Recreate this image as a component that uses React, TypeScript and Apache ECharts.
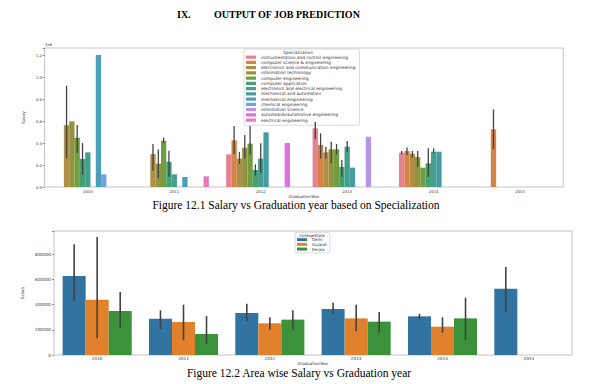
import React, { useEffect, useRef } from 'react';
import * as echarts from 'echarts';

// ---------- data ----------
const years = ['2010', '2011', '2012', '2013', '2014', '2015'];

const specializations = [
  'instrumentation and control engineering',
  'computer science & engineering',
  'electronics and communication engineering',
  'information technology',
  'computer engineering',
  'computer application',
  'electronics and electrical engineering',
  'mechanical and automation',
  'mechanical engineering',
  'chemical engineering',
  'information science',
  'automobile/automotive engineering',
  'electrical engineering',
];

const instrumentationSalary = [null, null, 297000, 533000, 312000, null];
const computerScienceSalary = [null, null, 424000, 382000, 327000, 524000];
const electronicsCommSalary = [561000, 300000, 258000, 315000, 303000, null];
const infoTechSalary = [597000, 212000, 357000, 342000, 273000, null];
const computerEngSalary = [448000, 420000, 394000, 342000, 176000, null];
const computerAppSalary = [255000, 230000, 155000, 182000, 215000, null];
const electronicsElecSalary = [315000, 115000, 258000, 367000, 321000, null];
const mechAutomationSalary = [null, null, 497000, 176000, 321000, null];
const mechEngSalary = [1200000, 91000, null, null, null, null];
const chemicalSalary = [115000, null, null, null, null, null];
const infoScienceSalary = [null, null, null, 457000, null, null];
const automobileSalary = [null, null, 400000, null, null, null];
const electricalSalary = [null, 97000, null, null, null, null];

const specSalaries = [
  instrumentationSalary, computerScienceSalary, electronicsCommSalary, infoTechSalary,
  computerEngSalary, computerAppSalary, electronicsElecSalary, mechAutomationSalary,
  mechEngSalary, chemicalSalary, infoScienceSalary, automobileSalary, electricalSalary,
];

// [yearIndex, specializationIndex, low, high]
const specErrors = [
  [0, 2, 261000, 921000], [0, 4, 312000, 564000], [0, 5, 112000, 400000],
  [1, 2, 148000, 390000], [1, 3, 80000, 340000], [1, 4, 397000, 448000], [1, 5, 94000, 330000],
  [2, 1, 297000, 555000], [2, 2, 210000, 320000], [2, 3, 260000, 473000], [2, 4, 294000, 555000],
  [2, 5, 103000, 206000], [2, 6, 124000, 397000],
  [3, 0, 436000, 594000], [3, 1, 260000, 488000], [3, 2, 260000, 367000], [3, 3, 215000, 412000],
  [3, 4, 297000, 390000], [3, 5, 94000, 245000], [3, 6, 315000, 418000],
  [4, 0, 297000, 327000], [4, 1, 290000, 360000], [4, 2, 267000, 327000], [4, 3, 182000, 327000],
  [4, 5, 94000, 352000], [4, 6, 306000, 352000],
  [5, 1, 343000, 706000],
];

const states = ['Delhi', 'Gujarat', 'Kerala'];
const delhiSalary = [627000, 288000, 334000, 365000, 307000, 527000];
const gujaratSalary = [439000, 262000, 252000, 291000, 225000, null];
const keralaSalary = [350000, 167000, 281000, 265000, 291000, null];
const stateSalaries = [delhiSalary, gujaratSalary, keralaSalary];

// [yearIndex, stateIndex, low, high]
const stateErrors = [
  [0, 0, 431000, 879000], [1, 0, 204000, 355000], [2, 0, 270000, 408000],
  [3, 0, 323000, 415000], [4, 0, 283000, 328000], [5, 0, 344000, 700000],
  [0, 1, 133000, 937000], [1, 1, 117000, 400000], [2, 1, 200000, 300000],
  [3, 1, 188000, 400000], [4, 1, 177000, 300000],
  [0, 2, 217000, 500000], [1, 2, 90000, 310000], [2, 2, 200000, 355000],
  [3, 2, 177000, 342000], [4, 2, 117000, 455000],
];

// ---------- colours (seaborn husl palette, desaturated 0.75) ----------
const HM = [
  [3.2406, -1.5372, -0.4986],
  [-0.9689, 1.8758, 0.0415],
  [0.0557, -0.204, 1.057],
];
const refU = 0.19784, refV = 0.46834, labE = 0.008856, labK = 903.3;

function maxChroma(L: number, H: number) {
  const hrad = (H / 360) * 2 * Math.PI;
  const sinH = Math.sin(hrad), cosH = Math.cos(hrad);
  const sub1 = Math.pow(L + 16, 3) / 1560896;
  const sub2 = sub1 > labE ? sub1 : L / labK;
  let result = Infinity;
  for (const [m1, m2, m3] of HM) {
    const top = (0.99915 * m1 + 1.05122 * m2 + 1.1446 * m3) * sub2;
    const rb = 0.8633 * m3 - 0.17266 * m2;
    const lb = 0.12949 * m3 - 0.38848 * m1;
    const bottom = (rb * sinH + lb * cosH) * sub2;
    for (const t of [0, 1]) {
      const C = (L * (top - 1.05122 * t)) / (bottom + 0.17266 * sinH * t);
      if (C > 0 && C < result) result = C;
    }
  }
  return result;
}

function huslToRgb(h: number, s: number, l: number) {
  const C = (maxChroma(l, h) / 100) * s;
  const hr = (h / 360) * 2 * Math.PI;
  const U = C * Math.cos(hr), V = C * Math.sin(hr);
  const t = (l + 16) / 116;
  const varY = t * t * t > labE ? t * t * t : (116 * t - 16) / labK;
  const varU = U / (13 * l) + refU;
  const varV = V / (13 * l) + refV;
  const Y = varY;
  const X = -(9 * Y * varU) / ((varU - 4) * varV - varU * varV);
  const Z = (9 * Y - 15 * varV * Y - varV * X) / (3 * varV);
  return HM.map(([a, b, c]) => {
    let v = a * X + b * Y + c * Z;
    v = v <= 0.0031308 ? 12.92 * v : 1.055 * Math.pow(v, 1 / 2.4) - 0.055;
    return Math.min(1, Math.max(0, v));
  });
}

function desat(rgb: number[], p: number) {
  const mx = Math.max(...rgb), mn = Math.min(...rgb);
  const l = (mx + mn) / 2;
  return rgb.map((v) => l + (v - l) * p);
}

function toHex(rgb: number[]) {
  return '#' + rgb.map((v) => Math.round(v * 255).toString(16).padStart(2, '0')).join('');
}

function hexToRgb(hex: string) {
  return [1, 3, 5].map((i) => parseInt(hex.slice(i, i + 2), 16) / 255);
}

const specColors = specializations.map((_, i) => {
  const n = specializations.length;
  const h = ((i / n + 0.01) % 1) * 359;
  return toHex(desat(huslToRgb(h, 89.1, 64.35), 0.75));
});
const stateColors = ['#1f77b4', '#ff7f0e', '#2ca02c'].map((c) => toHex(desat(hexToRgb(c), 0.75)));

// ---------- chart ----------
const SANS = 'DejaVu Sans';
const SERIF = 'Liberation Serif';

function errRender(nHue: number, width: number) {
  return (params: any, api: any) => {
    const cat = api.value(0);
    const hue = api.value(1);
    const band = api.size([1, 0])[0];
    const cx = api.coord([cat, 0])[0] - band * 0.4 + ((hue + 0.5) * band * 0.8) / nHue;
    const y1 = api.coord([cat, api.value(2)])[1];
    const y2 = api.coord([cat, api.value(3)])[1];
    return {
      type: 'line',
      shape: { x1: cx, y1, x2: cx, y2 },
      style: { stroke: '#424242', lineWidth: width },
    };
  };
}

export default function App() {
  const ref = useRef<HTMLDivElement>(null);
  useEffect(() => {
    if (!ref.current) return;
    const chart = echarts.init(ref.current, undefined, { renderer: 'svg' });
    const axisText = { color: '#333', fontFamily: SANS };
    const option: any = {
      animation: false,
      backgroundColor: '#ffffff',
      grid: [
        { left: 44.6, right: 30.7, top: 48, bottom: 197, show: true, borderColor: '#b4b4b4', borderWidth: 0.8 },
        { left: 54, right: 22, top: 231, bottom: 29, show: true, borderColor: '#b4b4b4', borderWidth: 0.8 },
      ],
      xAxis: [
        {
          type: 'category', gridIndex: 0, data: years,
          axisLine: { show: false },
          axisTick: { alignWithLabel: true, length: 2, lineStyle: { color: '#444', width: 0.6 } },
          axisLabel: { ...axisText, fontSize: 3.8, margin: 2.8 },
          name: 'GraduationYear', nameLocation: 'middle', nameGap: 6,
          nameTextStyle: { ...axisText, fontSize: 4, lineHeight: 4 },
        },
        {
          type: 'category', gridIndex: 1, data: years,
          axisLine: { show: false },
          axisTick: { alignWithLabel: true, length: 2, lineStyle: { color: '#444', width: 0.6 } },
          axisLabel: { ...axisText, fontSize: 4.2, margin: 1.5 },
          name: 'GraduationYear', nameLocation: 'middle', nameGap: 5,
          nameTextStyle: { ...axisText, fontSize: 4, lineHeight: 4 },
        },
      ],
      yAxis: [
        {
          type: 'value', gridIndex: 0, min: 0, max: 1264000, interval: 200000,
          axisLine: { show: false }, splitLine: { show: false },
          axisTick: { show: true, length: 2, lineStyle: { color: '#444', width: 0.6 } },
          axisLabel: {
            ...axisText, fontSize: 3.8, margin: 2.6,
            formatter: (v: number) => (v % 200000 === 0 ? (v / 1e6).toFixed(1) : ''),
          },
          name: 'Salary', nameLocation: 'middle', nameGap: 14.6,
          nameTextStyle: { ...axisText, fontSize: 4 },
        },
        {
          type: 'value', gridIndex: 1, min: 0, max: 985000, interval: 200000,
          axisLine: { show: false }, splitLine: { show: false },
          axisTick: { show: true, length: 2, lineStyle: { color: '#444', width: 0.6 } },
          axisLabel: {
            ...axisText, fontSize: 4.2, margin: 3,
            formatter: (v: number) => (v % 200000 === 0 ? String(v) : ''),
          },
          name: 'Salary', nameLocation: 'middle', nameGap: 22,
          nameTextStyle: { ...axisText, fontSize: 4 },
        },
      ],
      legend: [
        {
          data: specializations, left: 244, top: 49, orient: 'vertical',
          icon: 'rect', itemWidth: 10, itemHeight: 3.2, itemGap: 0,
          padding: [5.5, 4, 2.5, 2], selectedMode: false,
          backgroundColor: 'rgba(255,255,255,0.85)', borderColor: '#d0d0d0', borderWidth: 0.8, borderRadius: 2,
          textStyle: { fontSize: 4.3, lineHeight: 5.25, color: '#333', fontFamily: SANS },
        },
        {
          data: states, left: 295, top: 232.3, orient: 'vertical',
          icon: 'rect', itemWidth: 10, itemHeight: 3, itemGap: 0,
          padding: [5, 3, 1.5, 2], selectedMode: false,
          backgroundColor: 'rgba(255,255,255,0.85)', borderColor: '#d0d0d0', borderWidth: 0.8, borderRadius: 2,
          textStyle: { fontSize: 4, lineHeight: 4.7, color: '#333', fontFamily: SANS },
        },
      ],
      graphic: [
        { type: 'text', left: 177, top: 9, z: 100, style: { text: 'IX.', font: `bold 10px "${SERIF}"`, fill: '#000' } },
        { type: 'text', left: 214, top: 9, z: 100, style: { text: 'OUTPUT OF JOB PREDICTION', font: `bold 10px "${SERIF}"`, fill: '#000' } },
        { type: 'text', left: 45, top: 42.5, z: 100, style: { text: '1e6', font: `3.8px "${SANS}"`, fill: '#333' } },
        { type: 'text', x: 298, y: 52.3, z: 100, style: { text: 'Specialization', font: `4.3px "${SANS}"`, fill: '#333', align: 'center', verticalAlign: 'middle' } },
        { type: 'text', x: 312, y: 235, z: 100, style: { text: 'CollegeState', font: `4px "${SANS}"`, fill: '#333', align: 'center', verticalAlign: 'middle' } },
        { type: 'text', x: 296, y: 204.5, z: 100, style: { text: 'Figure 12.1 Salary vs Graduation year based on Specialization', font: `11.5px "${SERIF}"`, fill: '#000', align: 'center', verticalAlign: 'middle', lineHeight: 12 } },
        { type: 'text', x: 299, y: 372.5, z: 100, style: { text: 'Figure 12.2 Area wise Salary vs Graduation year', font: `11.5px "${SERIF}"`, fill: '#000', align: 'center', verticalAlign: 'middle', lineHeight: 12 } },
      ],
      series: [
        ...specializations.map((name, i) => ({
          type: 'bar', name, xAxisIndex: 0, yAxisIndex: 0,
          data: specSalaries[i].map((v) => (v == null ? '-' : v)),
          barGap: '0%', barCategoryGap: '20%',
          itemStyle: { color: specColors[i] },
        })),
        {
          type: 'custom', name: 'specErr', xAxisIndex: 0, yAxisIndex: 0, z: 5,
          data: specErrors, encode: { x: 0, y: [2, 3] },
          renderItem: errRender(specializations.length, 1.3),
        },
        ...states.map((name, i) => ({
          type: 'bar', name, xAxisIndex: 1, yAxisIndex: 1,
          data: stateSalaries[i].map((v) => (v == null ? '-' : v)),
          barGap: '0%', barCategoryGap: '20%',
          itemStyle: { color: stateColors[i] },
        })),
        {
          type: 'custom', name: 'stateErr', xAxisIndex: 1, yAxisIndex: 1, z: 5,
          data: stateErrors, encode: { x: 0, y: [2, 3] },
          renderItem: errRender(states.length, 1.6),
        },
      ],
    };
    chart.setOption(option);
    return () => chart.dispose();
  }, []);
  return (
    <div
      ref={ref}
      style={{ position: 'absolute', left: 0, top: 0, width: 594, height: 384, background: '#fff' }}
    />
  );
}
